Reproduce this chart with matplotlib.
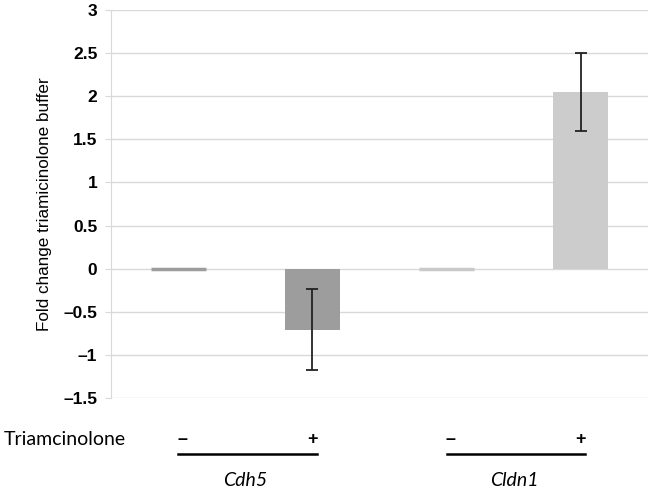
import numpy as np
import matplotlib.pyplot as plt
import matplotlib.transforms as mtransforms

genes = ["Cdh5", "Cldn1"]
treatment = ["\u2013", "+", "\u2013", "+"]
fold_change = [0.0, -0.71, 0.0, 2.05]
errors = [0.0, 0.47, 0.0, 0.45]
colors = ["#9d9d9d", "#9d9d9d", "#c9c9c9", "#cccccc"]
yticks = [-1.5, -1, -0.5, 0, 0.5, 1, 1.5, 2, 2.5, 3]

fig = plt.figure(figsize=(6.5, 4.92), dpi=100)
ax = fig.add_axes([0.171, 0.191, 0.826, 0.789])

x = np.arange(len(fold_change))
# zero-height bars show as a thin line, so give them an edge
lw = [2.5 if v == 0 else 0 for v in fold_change]
ax.bar(x, fold_change, width=0.41, color=colors, edgecolor=colors, linewidth=lw, zorder=2)
for xi, v, e in zip(x, fold_change, errors):
    if e > 0:
        ax.errorbar(xi, v, yerr=e, fmt="none", ecolor="#222222", elinewidth=1.3,
                    capsize=4, capthick=1.3, zorder=3)

ax.set_xlim(-0.5, 3.5)
ax.set_ylim(-1.5, 3)
ax.set_yticks(yticks)
ax.set_yticklabels([f"{t:g}".replace("-", "\u2013") for t in yticks],
                   fontsize=12.5, fontweight="bold", family="Liberation Sans")
ax.set_xticks([])
ax.yaxis.grid(True, color="#d9d9d9", linewidth=1)
ax.set_axisbelow(True)
for s in ["top", "right", "bottom"]:
    ax.spines[s].set_visible(False)
ax.spines["left"].set_color("#d9d9d9")
ax.tick_params(axis="y", length=4, color="#d9d9d9", pad=6)
ax.set_ylabel("Fold change triamicinolone buffer", fontsize=12.3,
              family="Liberation Sans", labelpad=8)

trans = mtransforms.blended_transform_factory(ax.transData, ax.transAxes)
fig.text(0.005, ax.get_position().y0 - 0.108 * ax.get_position().height,
         "Triamcinolone", fontsize=14, family="Lato", va="center", ha="left")
for xi, t in zip(x, treatment):
    ax.text(xi + (0.03 if t != "+" else 0.0), -0.108, t, transform=trans,
            ha="center", va="center", fontsize=13, fontweight="bold",
            family="Liberation Sans", clip_on=False)
for i, g in enumerate(genes):
    x0, x1 = x[2 * i], x[2 * i + 1]
    ax.plot([x0, x1 + 0.03], [-0.145, -0.145], transform=trans, color="black",
            linewidth=1.8, clip_on=False)
    ax.text((x0 + x1) / 2, -0.212, g, transform=trans, ha="center", va="center",
            fontsize=14, style="italic", family="Lato", clip_on=False)

fig.savefig("out.png", dpi=100)
